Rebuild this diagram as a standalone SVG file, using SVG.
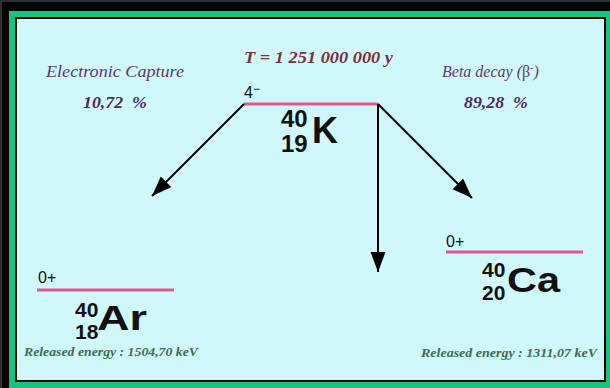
<svg xmlns="http://www.w3.org/2000/svg" width="610" height="388" viewBox="0 0 610 388">
<style>
.lvl{stroke:#e0578e;stroke-width:3;}
.spin{font-family:"Liberation Sans",Arial,sans-serif;font-size:16px;fill:#111;}
.iso{font-family:"Liberation Sans",Arial,sans-serif;font-weight:bold;fill:#111;}
.lab{font-family:"Liberation Serif","Times New Roman",serif;font-style:italic;fill:#5a3a6e;font-size:16px;}
.pct{font-family:"Liberation Serif","Times New Roman",serif;font-style:italic;font-weight:bold;fill:#4e2a5e;font-size:17px;}
.title{font-family:"Liberation Serif","Times New Roman",serif;font-style:italic;font-weight:bold;fill:#7d2f38;font-size:16px;}
.energy{font-family:"Liberation Serif","Times New Roman",serif;font-style:italic;font-weight:bold;fill:#3f6b50;font-size:13px;}
.arrow{stroke:#000;stroke-width:2;fill:none;marker-end:url(#ah);}
</style>
<defs>
<marker id="ah" markerUnits="userSpaceOnUse" markerWidth="22" markerHeight="16" refX="20" refY="7.5" orient="auto">
<path d="M0,0 L20,7.5 L0,15 Z" fill="#000"/>
</marker>
</defs>
<rect x="0" y="0" width="610" height="388" fill="#2c2f34"/>
<rect x="2" y="2" width="608" height="386" fill="#050505"/>
<rect x="9" y="11" width="601" height="377" fill="#12c67e"/>
<rect x="16" y="18" width="589" height="363" fill="#d0f8fa" stroke="#000" stroke-width="2"/>

<g id="title">
<text class="title" x="244" y="63" textLength="149" lengthAdjust="spacingAndGlyphs">T = 1 251 000 000 y</text>
</g>
<g id="ec-label">
<text class="lab" x="46" y="77" textLength="138" lengthAdjust="spacingAndGlyphs">Electronic Capture</text>
<text class="pct" x="83" y="108" xml:space="preserve" textLength="64" lengthAdjust="spacingAndGlyphs">10,72  %</text>
</g>
<g id="beta-label">
<text class="lab" x="442" y="77" font-size="17">Beta decay (<tspan font-style="normal">β</tspan><tspan font-size="10" dy="-6">-</tspan><tspan dy="6">)</tspan></text>
<text class="pct" x="464" y="108" xml:space="preserve" textLength="64" lengthAdjust="spacingAndGlyphs">89,28  %</text>
</g>

<g id="K40">
<line class="lvl" x1="244" y1="104" x2="378" y2="104"/>
<text class="spin" x="244" y="98">4<tspan font-size="12" dy="-5">−</tspan></text>
<text class="iso" x="281" y="127" font-size="24">40</text>
<text class="iso" x="281" y="152" font-size="24">19</text>
<text class="iso" x="312" y="143" font-size="36">K</text>
</g>

<g id="Ar40">
<line class="lvl" x1="37" y1="290" x2="174" y2="290"/>
<text class="spin" x="38" y="283">0+</text>
<text class="iso" x="75" y="317" font-size="21">40</text>
<text class="iso" x="75" y="339" font-size="21">18</text>
<text class="iso" x="97" y="330" font-size="35" textLength="50" lengthAdjust="spacingAndGlyphs">Ar</text>
<text class="energy" x="24" y="356" textLength="174" lengthAdjust="spacingAndGlyphs">Released energy : 1504,70 keV</text>
</g>

<g id="Ca40">
<line class="lvl" x1="446" y1="252" x2="583" y2="252"/>
<text class="spin" x="446" y="247">0+</text>
<text class="iso" x="482" y="277" font-size="21">40</text>
<text class="iso" x="482" y="300" font-size="21">20</text>
<text class="iso" x="507" y="292" font-size="35" textLength="53" lengthAdjust="spacingAndGlyphs">Ca</text>
<text class="energy" x="421" y="357" textLength="176" lengthAdjust="spacingAndGlyphs">Released energy : 1311,07 keV</text>
</g>

<g id="connectors">
<line class="arrow" x1="244" y1="104" x2="152" y2="196"/>
<line class="arrow" x1="378" y1="104" x2="378" y2="272"/>
<line class="arrow" x1="378" y1="104" x2="472" y2="198"/>
</g>
</svg>
